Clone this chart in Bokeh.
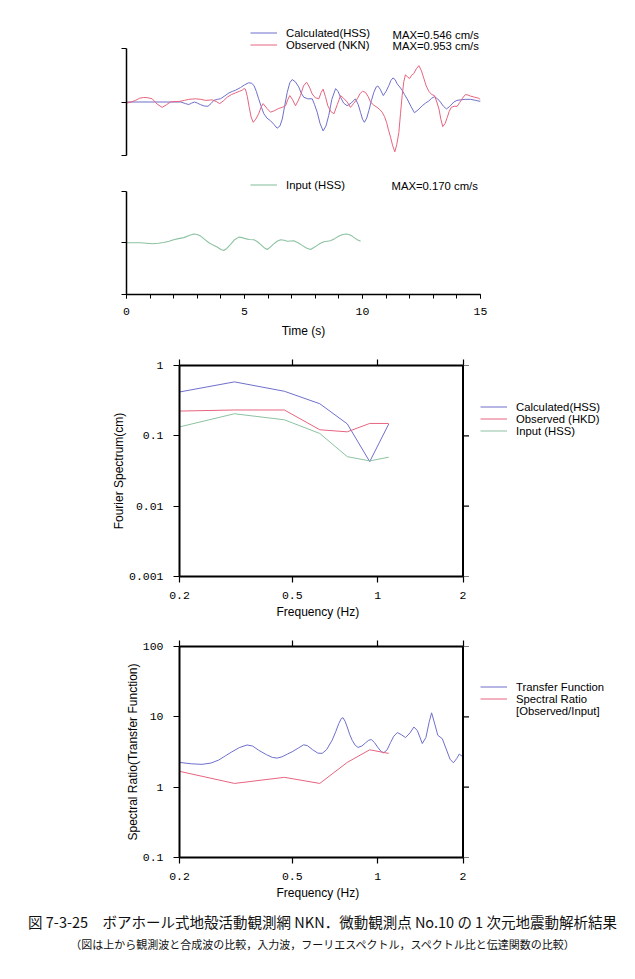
from bokeh.plotting import figure
from bokeh.models import (Range1d, LinearAxis, LogAxis, FixedTicker, Legend, LegendItem, Label, Div, Span,
                          Title)
from bokeh.embed import file_html
from bokeh.resources import INLINE

# ---------------- data ----------------
calc_t = [0, 2.3, 2.5, 2.64, 2.76, 2.88, 3.0, 3.14, 3.3, 3.45, 3.58, 3.7, 3.85, 3.98, 4.15, 4.34, 4.5, 4.62,
          4.83, 5.0, 5.18, 5.3, 5.4, 5.5, 5.6, 5.72, 5.82, 5.95, 6.1, 6.25, 6.38, 6.5, 6.6, 6.7, 6.81, 6.92,
          7.02, 7.15, 7.3, 7.4, 7.51, 7.68, 7.87, 7.97, 8.08, 8.2, 8.33, 8.45, 8.57, 8.7, 8.86, 8.96, 9.07,
          9.2, 9.35, 9.52, 9.7, 9.82, 9.92, 10.0, 10.08, 10.18, 10.27, 10.38, 10.48, 10.58, 10.65, 10.75,
          10.88, 11.0, 11.12, 11.2, 11.29, 11.38, 11.47, 11.58, 11.68, 11.78, 11.89, 12.05, 12.2, 12.35,
          12.53, 12.67, 12.81, 12.93, 13.05, 13.18, 13.3, 13.43, 13.56, 13.7, 13.87, 14.0, 14.15, 14.35,
          14.58, 14.8, 15]
calc_a = [0, 0, -0.03, -0.047, -0.02, 0, -0.02, -0.05, -0.075, -0.08, -0.03, 0.03, 0.05, 0.06, 0.11, 0.17,
          0.2, 0.22, 0.27, 0.32, 0.36, 0.35, 0.31, 0.2, 0.06, -0.1, -0.22, -0.3, -0.35, -0.42, -0.49, -0.45,
          -0.32, -0.08, 0.18, 0.36, 0.42, 0.38, 0.28, 0.17, 0.09, 0.06, 0.06, -0.05, -0.19, -0.4, -0.54,
          -0.45, -0.25, 0.05, 0.25, 0.2, 0.09, -0.02, -0.07, -0.02, 0.06, -0.05, -0.2, -0.32, -0.38, -0.3,
          -0.16, 0.03, 0.18, 0.28, 0.30, 0.24, 0.12, 0.2, 0.31, 0.4, 0.45, 0.42, 0.34, 0.28, 0.22, 0.14,
          0.06, -0.08, -0.2, -0.15, -0.07, -0.02, 0.02, 0.07, 0.1, 0.06, 0, -0.08, -0.13, -0.08, 0, 0.03,
          0.04, 0.05, 0.05, 0.03, 0.01]

obs_t = [0, 0.2, 0.38, 0.55, 0.73, 0.9, 1.09, 1.3, 1.51, 1.7, 1.86, 2.05, 2.22, 2.45, 2.64, 2.92, 3.15,
         3.35, 3.5, 3.63, 3.8, 3.95, 4.1, 4.27, 4.45, 4.62, 4.78, 4.9, 4.98, 5.04, 5.12, 5.2, 5.28, 5.37,
         5.48, 5.6, 5.7, 5.79, 5.95, 6.1, 6.28, 6.45, 6.6, 6.74, 6.83, 6.92, 7.04, 7.16, 7.27, 7.37, 7.5,
         7.63, 7.75, 7.87, 8.0, 8.15, 8.25, 8.33, 8.43, 8.53, 8.66, 8.79, 8.93, 9.07, 9.2, 9.35, 9.49, 9.62,
         9.78, 9.9, 10.0, 10.13, 10.24, 10.34, 10.48, 10.62, 10.73, 10.83, 10.93, 11.02, 11.1, 11.19, 11.28,
         11.37, 11.45, 11.54, 11.61, 11.68, 11.75, 11.82, 11.9, 12.0, 12.08, 12.17, 12.28, 12.39, 12.5,
         12.6, 12.7, 12.81, 12.93, 13.05, 13.15, 13.24, 13.32, 13.4, 13.5, 13.59, 13.67, 13.76, 13.88,
         14.01, 14.12, 14.22, 14.36, 14.47, 14.58, 14.75, 14.93, 15]
obs_a = [-0.02, 0.0, 0.03, 0.07, 0.085, 0.08, 0.06, -0.04, -0.1, -0.05, 0, 0.01, 0.01, 0.03, 0.05, 0.06,
         0.05, 0.03, 0.035, 0.04, 0.01, -0.03, 0.02, 0.09, 0.14, 0.17, 0.2, 0.22, 0.25, 0.24, 0.1, -0.1,
         -0.28, -0.38, -0.32, -0.22, -0.1, -0.03, -0.12, -0.19, -0.16, -0.12, -0.1, -0.07, 0.04, 0.12, 0.04,
         -0.07, 0.02, 0.12, 0.3, 0.37, 0.28, 0.15, 0.08, 0.06, 0.18, 0.24, 0.1, -0.07, -0.18, -0.22, -0.05,
         0.12, 0.07, 0, -0.1, -0.03, 0.06, 0.16, 0.2, 0.18, 0.1, 0, -0.06, -0.1, -0.14, -0.19, -0.27, -0.38,
         -0.52, -0.66, -0.82, -0.93, -0.8, -0.57, -0.22, 0.12, 0.38, 0.51, 0.47, 0.44, 0.5, 0.53, 0.62, 0.68,
         0.58, 0.44, 0.3, 0.2, 0.14, 0.12, 0.0, -0.13, -0.32, -0.46, -0.4, -0.29, -0.18, -0.1, -0.08, -0.08,
         -0.01, 0.06, 0.14, 0.13, 0.11, 0.09, 0.07, 0.04]

inp_t = [0, 0.3, 0.59, 0.85, 1.09, 1.35, 1.58, 1.8, 2.0, 2.2, 2.43, 2.65, 2.85, 3.0, 3.14, 3.3, 3.49, 3.65,
         3.84, 4.0, 4.12, 4.25, 4.41, 4.58, 4.76, 4.9, 5.04, 5.2, 5.4, 5.55, 5.68, 5.82, 5.96, 6.1, 6.24,
         6.38, 6.53, 6.68, 6.81, 6.95, 7.09, 7.27, 7.44, 7.62, 7.8, 7.94, 8.08, 8.22, 8.36, 8.5, 8.64, 8.82,
         9.0, 9.16, 9.32, 9.45, 9.56, 9.68, 9.78, 9.92]
inp_a = [0, 0, 0, -0.01, -0.02, -0.01, 0.005, 0.03, 0.06, 0.08, 0.1, 0.14, 0.17, 0.16, 0.13, 0.07, 0, -0.04,
         -0.08, -0.13, -0.15, -0.11, -0.03, 0.06, 0.11, 0.1, 0.08, 0.065, 0.06, 0.02, -0.03, -0.09, -0.13,
         -0.08, -0.02, 0.03, 0.06, 0.05, 0.03, 0.035, 0.04, 0.0, -0.05, -0.1, -0.13, -0.09, -0.05, -0.01,
         0.02, 0.03, 0.04, 0.08, 0.13, 0.16, 0.17, 0.155, 0.13, 0.09, 0.06, 0.03]

fs_freq = [0.2, 0.3125, 0.46875, 0.625, 0.78125, 0.9375, 1.09375]
fs_calc = [0.42, 0.585, 0.43, 0.286, 0.148, 0.043, 0.147]
fs_obs = [0.225, 0.233, 0.233, 0.122, 0.114, 0.15, 0.15]
fs_inp = [0.134, 0.206, 0.169, 0.108, 0.0506, 0.044, 0.0497]
sr_ratio = [1.68, 1.13, 1.38, 1.13, 2.25, 3.4, 3.02]

tf_freq = [0.200, 0.220, 0.240, 0.258, 0.275, 0.290, 0.306, 0.325, 0.346, 0.362, 0.380, 0.405, 0.425,
           0.442, 0.460, 0.480, 0.499, 0.525, 0.548, 0.565, 0.590, 0.615, 0.637, 0.660, 0.691, 0.712,
           0.729, 0.745, 0.755, 0.768, 0.781, 0.797, 0.813, 0.833, 0.853, 0.880, 0.906, 0.930, 0.950,
           0.975, 1.000, 1.030, 1.050, 1.080, 1.110, 1.140, 1.173, 1.210, 1.254, 1.300, 1.342, 1.380,
           1.437, 1.480, 1.520, 1.550, 1.590, 1.630, 1.690, 1.740, 1.800, 1.850, 1.900, 1.940, 2.000]
tf_amp = [2.25, 2.15, 2.11, 2.20, 2.43, 2.78, 3.18, 3.65, 3.98, 3.85, 3.36, 2.90, 2.65, 2.59, 2.70, 2.95,
          3.18, 3.60, 4.00, 3.90, 3.40, 3.05, 3.02, 3.40, 4.65, 6.20, 8.0, 9.5, 9.7, 8.6, 7.16, 5.6, 4.65,
          3.95, 3.67, 3.85, 4.26, 4.65, 4.75, 4.30, 3.70, 3.20, 3.08, 3.40, 4.30, 5.30, 5.97, 5.60, 5.07,
          5.90, 7.16, 6.40, 4.17, 5.10, 8.50, 11.4, 7.90, 5.46, 4.90, 3.60, 2.50, 2.22, 2.55, 2.95, 2.70]

amp_ticks = [-1, 0, 1]
time_ticks = [0, 5, 10, 15]
freq_ticks = [0.2, 0.5, 1, 2]
fs_ticks = [0.001, 0.01, 0.1, 1]
sr_ticks = [0.1, 1, 10, 100]

BLUE = "#6f6fcc"
RED = "#e6647f"
GREEN = "#8cc2a2"
SANS = "Liberation Sans"
MONO = "Liberation Mono"
W = 635
BOX_L = 179          # left edge of the spectrum boxes (px)
BOX_W = 283.5        # width of one frequency decade 0.2..2 (px)
F_LO, F_HI = 0.2, 2.0
TICK = 6


def make_fig(left, fw, top, fh, bottom, **kw):
    p = figure(width=W, height=top + fh + bottom, output_backend="svg", toolbar_location=None,
               min_border_left=left, min_border_right=W - left - fw, min_border_top=top,
               min_border_bottom=bottom, x_axis_location=None, y_axis_location=None, **kw)
    p.grid.visible = False
    p.background_fill_color = "white"
    p.border_fill_color = "white"
    return p


def make_legend(items, loc):
    return Legend(items=items, location=loc, label_text_font=SANS, label_text_font_size="11.3px",
                  label_text_color="black", glyph_width=27, glyph_height=11, label_height=11,
                  spacing=0, padding=0, margin=0, label_standoff=9, border_line_color=None,
                  background_fill_alpha=0)


def lab(text, x, y):
    return Label(x=x, y=y, x_units="screen", y_units="screen", text=text, text_font=SANS,
                 text_font_size="11.3px", text_baseline="middle", text_align="left", text_color="black")


def hidden_axis(cls, ticks, **kw):
    return cls(ticker=FixedTicker(ticks=ticks), major_label_text_color=None, major_label_text_font_size="1px",
               major_label_standoff=0, **kw)


# ---------------- panel 1: waveforms ----------------
p1 = make_fig(126, 354, 24, 131, 10, x_range=Range1d(0, 15), y_range=Range1d(-1, 1.449))
p1.outline_line_color = None
p1.add_layout(hidden_axis(LinearAxis, amp_ticks, bounds=(-1, 1), axis_line_width=1.5, major_tick_out=5,
                          major_tick_in=0, minor_tick_out=0), "left")
r_calc = p1.line(calc_t, calc_a, line_color=BLUE, line_width=1)
r_obs = p1.line(obs_t, obs_a, line_color=RED, line_width=1)
p1.add_layout(make_legend([LegendItem(label="Calculated(HSS)", renderers=[r_calc]),
                           LegendItem(label="Observed (NKN)", renderers=[r_obs])], (124, 104.5)), "center")
p1.add_layout(lab("MAX=0.546 cm/s", 266, 121))
p1.add_layout(lab("MAX=0.953 cm/s", 266, 110))

# ---------------- panel 2: input ----------------
p2 = make_fig(126, 354, 14, 116, 45, x_range=Range1d(0, 15), y_range=Range1d(-1, 1.224))
p2.outline_line_color = None
p2.add_layout(hidden_axis(LinearAxis, amp_ticks, bounds=(-1, 1), axis_line_width=1.5, major_tick_out=5,
                          major_tick_in=0, minor_tick_out=0), "left")
bx = LinearAxis(ticker=FixedTicker(ticks=time_ticks, minor_ticks=list(range(16))),
                axis_line_width=1.5, major_tick_out=4, major_tick_in=0, minor_tick_out=4, minor_tick_in=0,
                major_label_text_font=MONO, major_label_text_font_size="11.5px", major_label_standoff=9,
                major_label_text_color="black",
                axis_label="Time (s)", axis_label_text_font=SANS, axis_label_text_font_style="normal",
                axis_label_text_font_size="12px", axis_label_standoff=6, axis_label_text_color="black")
p2.add_layout(bx, "below")
r_inp = p2.line(inp_t, inp_a, line_color=GREEN, line_width=1.1)
p2.add_layout(make_legend([LegendItem(label="Input (HSS)", renderers=[r_inp])], (124, 103.5)), "center")
p2.add_layout(lab("MAX=0.170 cm/s", 265, 109))


def log_box(p, yticks, ylabel):
    common = dict(major_tick_out=TICK, major_tick_in=0, minor_tick_out=0, minor_tick_in=0,
                  axis_line_color="black", axis_line_width=2, major_tick_line_width=1.2)
    bx = LogAxis(ticker=FixedTicker(ticks=freq_ticks), bounds=(F_LO, F_HI),
                 major_label_overrides={t: f"{t:g}" for t in freq_ticks},
                 major_label_text_font=MONO, major_label_text_font_size="11.5px", major_label_standoff=9,
                 major_label_text_color="black", **common)
    p.add_layout(bx, "below")
    p.add_layout(Title(text="Frequency (Hz)", align="left", offset=97, standoff=2, text_font=SANS,
                       text_font_size="12px", text_font_style="normal", text_color="black"), "below")
    lx = LogAxis(ticker=FixedTicker(ticks=yticks),
                 major_label_overrides={t: f"{t:g}" for t in yticks},
                 major_label_text_font=MONO, major_label_text_font_size="11.5px", major_label_standoff=10,
                 major_label_text_color="black",
                 axis_label=ylabel, axis_label_text_font=SANS, axis_label_text_font_style="normal",
                 axis_label_text_font_size="12px", axis_label_standoff=0, axis_label_text_color="black",
                 **common)
    p.add_layout(lx, "left")
    p.add_layout(hidden_axis(LogAxis, freq_ticks, bounds=(F_LO, F_HI), **common), "above")
    # right edge of the box and its outward ticks
    p.add_layout(Span(location=F_HI, dimension="height", line_color="black", line_width=2))
    tick_end = F_HI * 10 ** (TICK / BOX_W)
    p.segment(x0=[F_HI] * len(yticks), x1=[tick_end] * len(yticks), y0=yticks, y1=yticks,
              line_color="black", line_width=1.2)
    p.outline_line_color = None


frame_w = W - BOX_L
x_end = F_LO * 10 ** (frame_w / BOX_W)

# ---------------- panel 3: Fourier spectrum ----------------
p3 = make_fig(BOX_L, frame_w, 25, 211, 54, x_range=Range1d(F_LO, x_end), y_range=Range1d(0.001, 1),
              x_axis_type="log", y_axis_type="log")
log_box(p3, fs_ticks, "Fourier Spectrum(cm)")
r1 = p3.line(fs_freq, fs_calc, line_color=BLUE, line_width=1)
r2 = p3.line(fs_freq, fs_obs, line_color=RED, line_width=1)
r3 = p3.line(fs_freq, fs_inp, line_color=GREEN, line_width=1)
p3.add_layout(make_legend([LegendItem(label="Calculated(HSS)", renderers=[r1]),
                           LegendItem(label="Observed (HKD)", renderers=[r2]),
                           LegendItem(label="Input (HSS)", renderers=[r3])], (301, 139.3)), "center")

# ---------------- panel 4: spectral ratio ----------------
p4 = make_fig(BOX_L, frame_w, 16, 212, 42, x_range=Range1d(F_LO, x_end), y_range=Range1d(0.1, 100),
              x_axis_type="log", y_axis_type="log")
log_box(p4, sr_ticks, "Spectral Ratio(Transfer Function)")
t1 = p4.line(tf_freq, tf_amp, line_color=BLUE, line_width=1)
t2 = p4.line(fs_freq, sr_ratio, line_color=RED, line_width=1)
t3 = p4.line(fs_freq, sr_ratio, line_alpha=0)
p4.add_layout(make_legend([LegendItem(label="Transfer Function", renderers=[t1]),
                           LegendItem(label="Spectral Ratio", renderers=[t2]),
                           LegendItem(label="[Observed/Input]", renderers=[t3])], (301, 140.3)), "center")

caption = Div(width=W, height=79, text=(
    "<div style=\"width:635px;text-align:center;font-family:'Noto Sans CJK JP';color:#111;\">"
    "<div style='font-size:14.5px;line-height:20px;padding-top:7px;'>"
    "図 7-3-25　ボアホール式地殻活動観測網 NKN．微動観測点 No.10 の 1 次元地震動解析結果</div>"
    "<div style='font-size:11px;line-height:14px;padding-top:5px;'>"
    "（図は上から観測波と合成波の比較，入力波，フーリエスペクトル，スペクトル比と伝達関数の比較）</div></div>"))

open("out.html", "w").write(file_html([p1, p2, p3, p4, caption], INLINE))
